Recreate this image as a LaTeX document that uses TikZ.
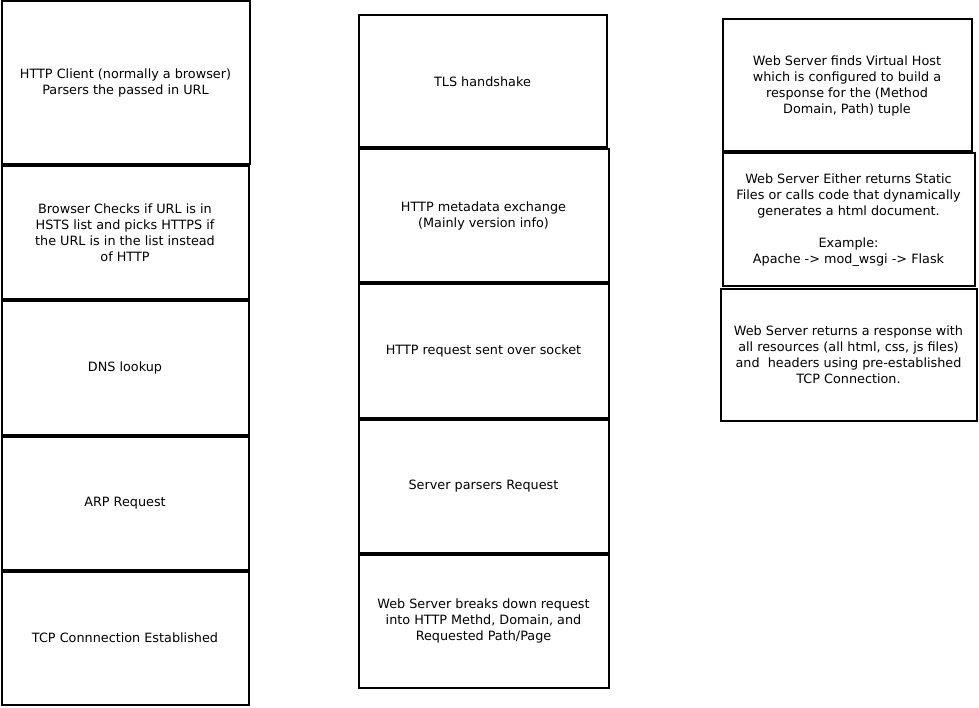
\documentclass[tikz,border=0pt]{standalone}
\usepackage{fontspec}
\setmainfont{DejaVu Sans}
\begin{document}
\begin{tikzpicture}[x=1pt,y=-1pt,
  box/.style={draw=black, line width=2pt, inner sep=0pt, align=center,
    font=\fontsize{12.8}{16}\selectfont, execute at begin node={\vspace*{3pt}}}]
\useasboundingbox (0,0) rectangle (979,708);
% column 1
\node[box, minimum width=248pt, minimum height=163pt] (c1a) at (125.5,83) {HTTP Client (normally a browser)\\Parsers the passed in URL};
\node[box, minimum width=247pt, minimum height=133pt] (c1b) at (125,233) {Browser Checks if URL is in\\HSTS list and picks HTTPS if\\the URL is in the list instead\\of HTTP};
\node[box, minimum width=247pt, minimum height=133pt] (c1c) at (125,368) {DNS lookup};
\node[box, minimum width=247pt, minimum height=133pt] (c1d) at (125,503) {ARP Request};
\node[box, minimum width=247pt, minimum height=133pt] (c1e) at (125,638) {TCP Connnection Established};
% column 2
\node[box, minimum width=248pt, minimum height=132pt] (c2a) at (482.5,81.5) {TLS handshake};
\node[box, minimum width=250pt, minimum height=133pt] (c2b) at (483.5,216) {HTTP metadata exchange\\(Mainly version info)};
\node[box, minimum width=250pt, minimum height=133pt] (c2c) at (483.5,351) {HTTP request sent over socket};
\node[box, minimum width=250pt, minimum height=133pt] (c2d) at (483.5,486) {Server parsers Request};
\node[box, minimum width=250pt, minimum height=133pt] (c2e) at (483.5,621) {Web Server breaks down request\\into HTTP Methd, Domain, and\\Requested Path/Page};
% column 3
\node[box, minimum width=249pt, minimum height=132pt] (c3a) at (847,85.5) {Web Server finds Virtual Host\\which is configured to build a\\response for the (Method\\Domain, Path) tuple};
\node[box, minimum width=252pt, minimum height=133pt] (c3b) at (848.5,220) {Web Server Either returns Static\\Files or calls code that dynamically\\generates a html document.\\[16pt]Example:\\Apache -> mod\_wsgi -> Flask};
\node[box, minimum width=256pt, minimum height=131pt] (c3c) at (848.5,355) {Web Server returns a response with\\all resources (all html, css, js files)\\and\ \ headers using pre-established\\TCP Connection.};
\end{tikzpicture}
\end{document}
